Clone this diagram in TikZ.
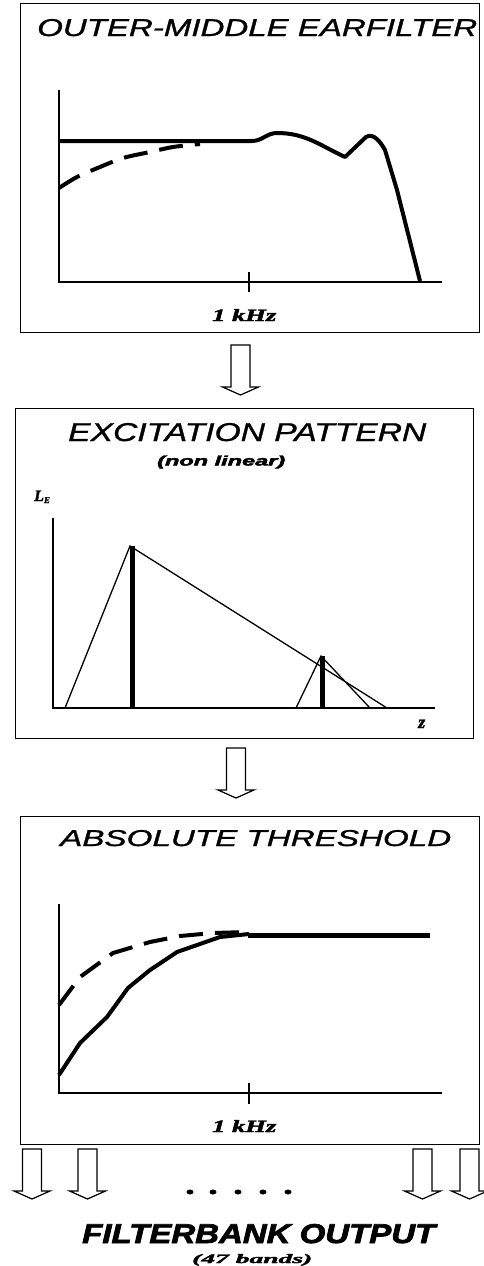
\documentclass[tikz,border=0pt]{standalone}
\usepackage{fontspec}
\setmainfont{Liberation Sans}[ItalicFeatures={FakeBold=1}, BoldItalicFeatures={FakeBold=2.5}]
\newfontfamily\labelfont{Liberation Serif}[BoldItalicFeatures={FakeBold=2}]
\usetikzlibrary{positioning}

\begin{document}
\begin{tikzpicture}[
    x=1pt, y=-1pt,
    panel/.style={rectangle, draw, line width=1.2pt, anchor=north west, inner sep=0pt, minimum width=459pt},
    paneltitle/.style={anchor=base west, inner sep=0pt, font=\itshape},
    unitlabel/.style={anchor=base west, inner sep=0pt, font=\labelfont\bfseries\itshape},
    axisline/.style={line width=1.2pt},
    curve/.style={line width=4pt, line join=round},
    dashcurve/.style={line width=4pt, dash pattern=on 24pt off 12pt},
    flank/.style={line width=1.3pt},
    bar/.style={line width=5pt},
    downarrow/.pic={\draw[line width=1.2pt, fill=white] (-9.5,0) -- (-9.5,42) -- (-18,42) -- (0,50) -- (18,42) -- (9.5,42) -- (9.5,0) -- cycle;}
]
\useasboundingbox (0,0) rectangle (484,1266);

% panels
\node[panel, minimum height=329pt] (earpanel) at (20,3) {};
\node[panel, minimum width=458pt, minimum height=330pt] (excpanel) at (15,408) {};
\node[panel, minimum height=328pt] (thrpanel) at (20,816) {};

\node[paneltitle] (eartitle) at (37,36) {\resizebox{440pt}{17pt}{OUTER-MIDDLE EARFILTER}};
\node[paneltitle] (exctitle) at (68,441) {\resizebox{358pt}{18pt}{EXCITATION PATTERN}};
\node[paneltitle, font=\bfseries\itshape] (excnote) at (157,465.5) {\resizebox{128pt}{10pt}{(non linear)}};
\node[paneltitle] (thrtitle) at (60,846) {\resizebox{391pt}{16pt}{ABSOLUTE THRESHOLD}};

% outer-middle ear
\draw[axisline] (59,90) -- (59,282) -- (442,282);
\draw[axisline] (249,272) -- (249,292);
\node[unitlabel] (earunit) at (212,321) {\resizebox{64pt}{12pt}{1 kHz}};
\draw[curve] (59,141) -- (252,141) to[out=0,in=180] (277,133) to[out=0,in=155] (345,157)
    -- (366,137) to[out=30,in=120] (385,150) -- (397,190) -- (420,281);
\draw[dashcurve] plot[smooth] coordinates {(59,188) (77,177) (100,167) (123,158) (150,152) (173,147) (200,144)};

% excitation pattern
\draw[axisline] (53,518) -- (53,708) -- (435,708);
\node[unitlabel, font=\labelfont\bfseries\itshape\fontsize{16}{16}\selectfont] (level) at (34,501) {L\raisebox{-2pt}{\fontsize{9}{9}\selectfont E}};
\node[unitlabel, font=\labelfont\bfseries\itshape\fontsize{18}{18}\selectfont] (bark) at (418,728) {z};
\draw[flank] (65,708) -- (130,546) -- (387,708);
\draw[flank] (296,708) -- (321,656) -- (370,708);
\draw[bar] (132,546) -- (132,708);
\draw[bar] (322,656) -- (322,708);

% absolute threshold
\draw[axisline] (59,904) -- (59,1093) -- (442,1093);
\draw[axisline] (249,1083) -- (249,1104);
\node[unitlabel] (thrunit) at (212,1132) {\resizebox{64pt}{12pt}{1 kHz}};
\draw[bar] (248,935) -- (430,935);
\draw[curve] (59,1075) -- (80,1043) -- (107,1017) -- (128,988) -- (150,970) -- (177,952) -- (220,937) -- (249,934);
\draw[dashcurve] (59,1005) -- (80,977) -- (113,953) -- (150,942) -- (180,936) -- (213,933) -- (248,932);

% block arrows
\pic (eartoexc) at (240.5,345) {downarrow};
\pic (exctothr) at (236,748) {downarrow};
\foreach \x/\name in {32/outa, 87.5/outb, 422.5/outc, 469.5/outd}
    \pic (\name) at (\x,1149) {downarrow};
\foreach \x in {190,213,238,263,288}
    \fill (\x,1192) ellipse [x radius=3.5, y radius=2.5];

\node[paneltitle, font=\bfseries\itshape] (bankout) at (82,1243) {\resizebox{353pt}{19pt}{FILTERBANK OUTPUT}};
\node[unitlabel] (bands) at (192,1263) {\resizebox{120pt}{9pt}{(47 bands)}};
\end{tikzpicture}
\end{document}
